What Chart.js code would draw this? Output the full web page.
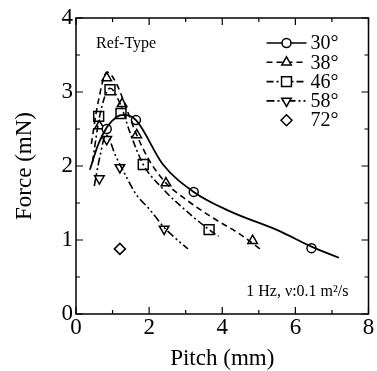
<!DOCTYPE html>
<html><head><meta charset="utf-8">
<script src="https://cdn.jsdelivr.net/npm/chart.js@4/dist/chart.umd.min.js"></script>
<style>html,body{margin:0;padding:0;background:#fff}#w{width:377px;height:371px}</style>
</head><body><div id="w"><canvas id="c"></canvas></div>
<script>
// Measured markers
const p30 = [0.84, 1.64, 3.22, 6.44];
const f30 = [2.50, 2.62, 1.65, 0.89];
const p38 = [0.64, 0.84, 1.26, 1.66, 2.46, 4.83];
const f38 = [2.54, 3.19, 2.84, 2.42, 1.77, 0.99];
const p46 = [0.62, 0.93, 1.23, 1.84, 3.64];
const f46 = [2.67, 3.03, 2.71, 2.02, 1.14];
const p58 = [0.64, 0.84, 1.20, 2.41];
const f58 = [1.83, 2.36, 1.98, 1.15];
const p72 = [1.20];
const f72 = [0.88];
// Fitted curves
const c30x = [0.38, 0.6, 0.84, 1.1, 1.3, 1.64, 2.38, 3.22, 4.2, 5.57, 6.44, 7.19];
const c30y = [1.95, 2.28, 2.52, 2.66, 2.69, 2.62, 2.02, 1.65, 1.39, 1.12, 0.91, 0.76];
const c38x = [0.42, 0.6, 0.85, 1.1, 1.4, 1.66, 2.0, 2.46, 3.0, 3.74, 4.48, 5.03];
const c38y = [2.3, 2.85, 3.27, 3.12, 2.75, 2.42, 2.08, 1.77, 1.55, 1.3, 1.08, 0.88];
const c46x = [0.45, 0.65, 0.93, 1.2, 1.5, 1.84, 2.4, 3.0, 3.64, 3.9];
const c46y = [2.05, 2.68, 3.05, 2.85, 2.42, 2.02, 1.68, 1.4, 1.14, 1.05];
const c58x = [0.5, 0.65, 0.82, 1.09, 1.37, 1.64, 2.02, 2.41, 2.66, 3.06];
const c58y = [1.73, 2.12, 2.42, 2.13, 1.86, 1.62, 1.41, 1.17, 1.05, 0.88];
const seriesLabels = ['30°', '38°', '46°', '58°', '72°'];
const xTicks = [0, 2, 4, 6, 8];
const yTicks = [0, 1, 2, 3, 4];
const xTitle = 'Pitch (mm)';
const yTitle = 'Force (mN)';
const noteTop = 'Ref-Type';
const noteBottom = '1 Hz, ν:0.1 m²/s';

const SERIF = '"Liberation Serif", "DejaVu Serif", serif';
const styles = [
  {dash: [], marker: 'circle', rot: 0},
  {dash: [6, 4], marker: 'triangle', rot: 0},
  {dash: [7, 3, 2, 3], marker: 'rect', rot: 0},
  {dash: [8, 3, 2, 3, 2, 3], marker: 'triangle', rot: 180},
  {dash: null, marker: 'rectRot', rot: 0}
];
const radii = [4.5, 5.5, 7, 5.5, 5.5];
const zip = (a, b) => a.map((v, i) => ({x: v, y: b[i]}));
const curves = [[c30x, c30y], [c38x, c38y], [c46x, c46y], [c58x, c58y]];
const marks = [[p30, f30], [p38, f38], [p46, f46], [p58, f58], [p72, f72]];
const datasets = [];
curves.forEach((c, i) => datasets.push({
  label: seriesLabels[i] + ' fit', data: zip(c[0], c[1]), showLine: true,
  cubicInterpolationMode: 'monotone',
  borderColor: '#000', borderWidth: i === 0 ? 1.8 : 1.6, borderDash: styles[i].dash,
  pointRadius: 0, fill: false
}));
marks.forEach((m, i) => datasets.push({
  label: seriesLabels[i], data: zip(m[0], m[1]), showLine: false,
  pointStyle: styles[i].marker, rotation: styles[i].rot, pointRadius: radii[i],
  pointBackgroundColor: '#fff', pointBorderColor: '#000', pointBorderWidth: 1.5
}));

const frame = {
  id: 'frame',
  afterDatasetsDraw(chart) {
    const {ctx, chartArea: a, scales: {x, y}} = chart;
    ctx.save();
    ctx.strokeStyle = '#000'; ctx.lineWidth = 1.5; ctx.setLineDash([]);
    ctx.strokeRect(a.left, a.top, a.right - a.left, a.bottom - a.top);
    ctx.lineWidth = 1.2;
    for (let v = x.min; v <= x.max; v += 1) {
      const px = x.getPixelForValue(v); const L = (v % 2 === 0) ? 7 : 4;
      ctx.beginPath(); ctx.moveTo(px, a.bottom); ctx.lineTo(px, a.bottom - L);
      ctx.moveTo(px, a.top); ctx.lineTo(px, a.top + L); ctx.stroke();
    }
    for (let v = y.min; v <= y.max + 1e-9; v += 0.5) {
      const py = y.getPixelForValue(v); const L = (v % 1 === 0) ? 7 : 4;
      ctx.beginPath(); ctx.moveTo(a.left, py); ctx.lineTo(a.left + L, py);
      ctx.moveTo(a.right, py); ctx.lineTo(a.right - L, py); ctx.stroke();
    }
    // notes
    ctx.fillStyle = '#000';
    ctx.font = '16px ' + SERIF;
    ctx.textBaseline = 'middle'; ctx.textAlign = 'left';
    ctx.fillText(noteTop, a.left + 20, a.top + 26);
    ctx.textAlign = 'right';
    ctx.fillText(noteBottom, a.right - 20, a.bottom - 22);
    // legend
    const lx0 = a.right - 102, lx1 = a.right - 62, mx = (lx0 + lx1) / 2, tx = a.right - 58;
    ctx.font = '20px ' + SERIF;
    ctx.textAlign = 'left';
    seriesLabels.forEach((lab, i) => {
      const ly = a.top + 25 + i * 19.3;
      const st = styles[i];
      if (st.dash !== null) {
        ctx.save(); ctx.setLineDash(st.dash); ctx.lineWidth = 1.6;
        ctx.beginPath(); ctx.moveTo(lx0, ly); ctx.lineTo(lx1, ly); ctx.stroke(); ctx.restore();
      }
      ctx.save(); ctx.fillStyle = '#fff'; ctx.lineWidth = 1.5; ctx.setLineDash([]);
      Chart.helpers.drawPoint(ctx, {pointStyle: st.marker, rotation: st.rot, radius: radii[i], borderWidth: 1.5}, mx, ly);
      ctx.restore();
      ctx.fillStyle = '#000';
      ctx.fillText(lab, tx, ly + 1);
    });
    ctx.restore();
  }
};

new Chart(document.getElementById('c'), {
  type: 'scatter',
  data: {datasets},
  options: {
    responsive: true, maintainAspectRatio: false, animation: false,
    layout: {padding: {top: 18, right: 8, left: 0, bottom: 0}},
    plugins: {legend: {display: false}, tooltip: {enabled: false}},
    scales: {
      x: {
        type: 'linear', min: 0, max: 8,
        afterBuildTicks: s => { s.ticks = xTicks.map(v => ({value: v})); },
        afterFit: s => { s.height = 57; },
        grid: {display: false, drawTicks: false},
        border: {display: false},
        ticks: {color: '#000', font: {family: SERIF, size: 23}, padding: 0, maxRotation: 0},
        title: {display: true, text: xTitle, color: '#000', font: {family: SERIF, size: 23}, padding: {top: 0, bottom: -2}}
      },
      y: {
        type: 'linear', min: 0, max: 4,
        afterBuildTicks: s => { s.ticks = yTicks.map(v => ({value: v})); },
        afterFit: s => { s.width = 76; },
        grid: {display: false, drawTicks: false},
        border: {display: false},
        ticks: {color: '#000', font: {family: SERIF, size: 23}, padding: 3},
        title: {display: true, text: yTitle, color: '#000', font: {family: SERIF, size: 23}, padding: {top: 11, bottom: 0}}
      }
    }
  },
  plugins: [frame]
});
</script></body></html>
